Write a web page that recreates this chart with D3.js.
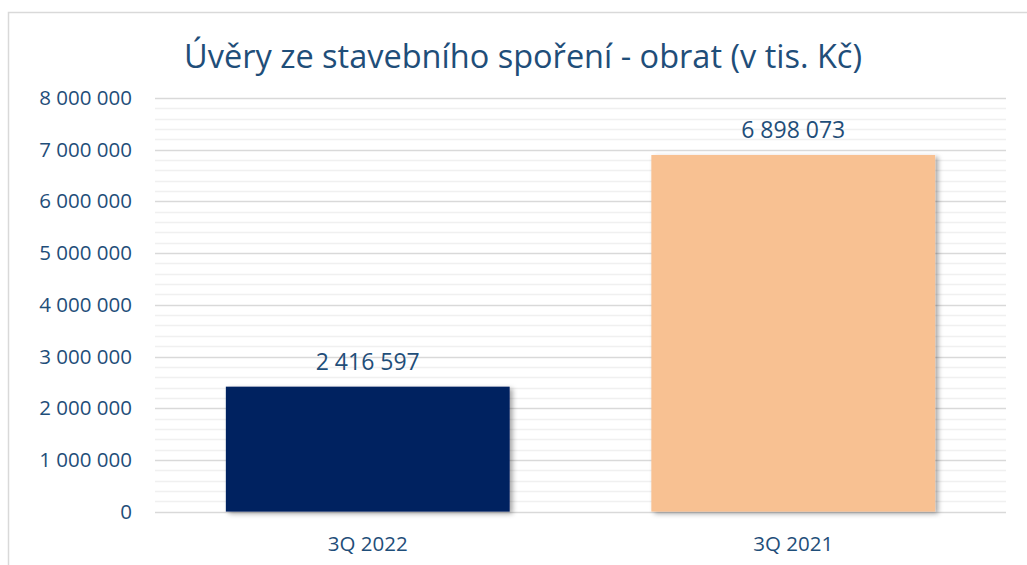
<!DOCTYPE html>
<meta charset="utf-8">
<script src="https://d3js.org/d3.v7.min.js"></script>
<style>
  body { margin: 0; background: #fff; }
  text { font-family: "Open Sans", sans-serif; fill: #1f4e79; }
</style>
<body>
<script>
// Data
var categories = ["3Q 2022", "3Q 2021"];
var values = [2416597, 6898073];
var barColors = ["#002060", "#f8c192"];
var yTicks = [0, 1000000, 2000000, 3000000, 4000000, 5000000, 6000000, 7000000, 8000000];
var title = "Úvěry ze stavebního spoření - obrat (v tis. Kč)";

var W = 1027, H = 565;
var plot = {left: 155, right: 1006, top: 98, bottom: 511.6};

var svg = d3.select("body").append("svg")
  .attr("width", W)
  .attr("height", H);

// drop shadow for bars
var defs = svg.append("defs");
var f = defs.append("filter").attr("id", "shadow")
  .attr("x", "-5%").attr("y", "-5%").attr("width", "115%").attr("height", "115%");
f.append("feDropShadow")
  .attr("dx", 3).attr("dy", 2).attr("stdDeviation", 2.5)
  .attr("flood-color", "#000").attr("flood-opacity", 0.35);

// outer frame (top and left edges visible)
svg.append("path")
  .attr("d", "M8.5,565 L8.5,12.5 L1027,12.5")
  .attr("fill", "none")
  .attr("stroke", "#d9d9d9")
  .attr("stroke-width", 1.5);

var x = d3.scaleBand()
  .domain(categories)
  .range([plot.left, plot.right])
  .paddingInner(0.333)
  .paddingOuter(0.1665);

var y = d3.scaleLinear()
  .domain([0, 8000000])
  .range([plot.bottom, plot.top]);

// minor gridlines every 200 000
var minor = d3.range(0, 8000001, 200000).filter(function(d) { return d % 1000000 !== 0; });
svg.append("g").selectAll("line")
  .data(minor)
  .enter().append("line")
  .attr("x1", plot.left).attr("x2", plot.right)
  .attr("y1", function(d) { return Math.round(y(d)) + 0.5; })
  .attr("y2", function(d) { return Math.round(y(d)) + 0.5; })
  .attr("stroke", "#f0f0f0")
  .attr("stroke-width", 1.5);

// major gridlines
svg.append("g").selectAll("line")
  .data(yTicks)
  .enter().append("line")
  .attr("x1", plot.left).attr("x2", plot.right)
  .attr("y1", function(d) { return Math.round(y(d)) + 0.5; })
  .attr("y2", function(d) { return Math.round(y(d)) + 0.5; })
  .attr("stroke", "#d9d9d9")
  .attr("stroke-width", 1.5);

var fmt = function(v) { return d3.format(",")(v).replace(/,/g, " "); };

// y axis labels
var yAxis = d3.axisLeft(y).tickValues(yTicks).tickFormat(fmt).tickSize(0).tickPadding(0);
var gy = svg.append("g")
  .attr("transform", "translate(132,0)")
  .call(yAxis);
gy.select(".domain").remove();
gy.selectAll("text")
  .attr("font-size", 20.5)
  .attr("font-family", null)
  .attr("fill", "#1f4e79");

// bars
svg.append("g").selectAll("rect")
  .data(values)
  .enter().append("rect")
  .attr("x", function(d, i) { return x(categories[i]); })
  .attr("width", x.bandwidth())
  .attr("y", function(d) { return y(d); })
  .attr("height", function(d) { return y(0) - y(d); })
  .attr("fill", function(d, i) { return barColors[i]; })
  .attr("filter", "url(#shadow)");

// value labels
svg.append("g").selectAll("text")
  .data(values)
  .enter().append("text")
  .attr("x", function(d, i) { return x(categories[i]) + x.bandwidth() / 2; })
  .attr("y", function(d) { return y(d) - 17; })
  .attr("text-anchor", "middle")
  .attr("font-size", 23)
  .text(fmt);

// category labels
var xAxis = d3.axisBottom(x).tickSize(0).tickPadding(0);
var gx = svg.append("g")
  .attr("transform", "translate(0,536)")
  .call(xAxis);
gx.select(".domain").remove();
gx.selectAll("text")
  .attr("font-size", 20.5)
  .attr("font-family", null)
  .attr("fill", "#1f4e79");

// title, fitted to the width it takes in the reference
var t = svg.append("text")
  .attr("x", 523)
  .attr("y", 68)
  .attr("text-anchor", "middle")
  .attr("font-size", 30)
  .text(title);
var len = t.node().getComputedTextLength();
t.attr("font-size", 30 * 678 / len);
</script>
</body>
</html>
